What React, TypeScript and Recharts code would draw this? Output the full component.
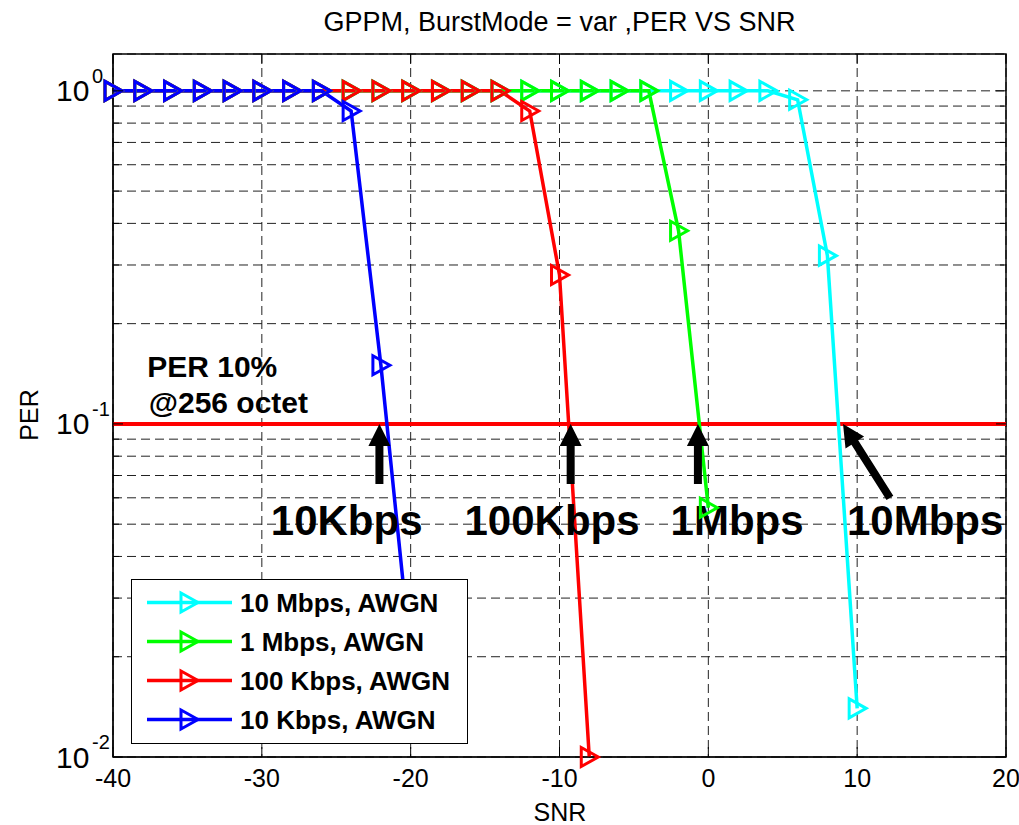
import React from 'react';
import {
  LineChart,
  Line,
  XAxis,
  YAxis,
  CartesianGrid,
  ReferenceLine,
  ReferenceDot,
  ReferenceArea,
  Legend,
} from 'recharts';

const FONT = "'Liberation Sans', Arial, Helvetica, sans-serif";

// ---- Data (SNR in dB, PER) ----
const snr10Mbps = [-40, -38, -36, -34, -32, -30, -28, -26, -24, -22, -20, -18, -16, -14, -12, -10, -8, -6, -4, -2, 0, 2, 4, 6, 8, 10];
const per10Mbps = [1, 1, 1, 1, 1, 1, 1, 1, 1, 1, 1, 1, 1, 1, 1, 1, 1, 1, 1, 1, 1, 1, 1, 0.94, 0.32, 0.014];

const snr1Mbps = [-40, -38, -36, -34, -32, -30, -28, -26, -24, -22, -20, -18, -16, -14, -12, -10, -8, -6, -4, -2, 0];
const per1Mbps = [1, 1, 1, 1, 1, 1, 1, 1, 1, 1, 1, 1, 1, 1, 1, 1, 1, 1, 1, 0.38, 0.056];

const snr100Kbps = [-40, -38, -36, -34, -32, -30, -28, -26, -24, -22, -20, -18, -16, -14, -12, -10, -8];
const per100Kbps = [1, 1, 1, 1, 1, 1, 1, 1, 1, 1, 1, 1, 1, 1, 0.87, 0.28, 0.01];

const snr10Kbps = [-40, -38, -36, -34, -32, -30, -28, -26, -24, -22, -20];
const per10Kbps = [1, 1, 1, 1, 1, 1, 1, 1, 0.87, 0.15, 0.02];

const seriesNames = ['10 Mbps, AWGN', '1 Mbps, AWGN', '100 Kbps, AWGN', '10 Kbps, AWGN'];
const seriesColors = ['#00ffff', '#00ff00', '#ff0000', '#0000ff'];

const xTicks = [-40, -30, -20, -10, 0, 10, 20];
const yTicks = [0.01, 0.02, 0.03, 0.04, 0.05, 0.06, 0.07, 0.08, 0.09, 0.1, 0.2, 0.3, 0.4, 0.5, 0.6, 0.7, 0.8, 0.9, 1];
const xDomain = [-40, 20];
const yDomain = [0.01, 1.29];

const perThreshold = 0.1;

// annotations
const arrowLabels = ['10Kbps', '100Kbps', '1Mbps', '10Mbps'];
const arrowTipSnr = [-22.1, -9.25, -0.7, 9.05];
const arrowTipPer = [0.1, 0.1, 0.1, 0.1];
const arrowTailSnr = [-22.1, -9.25, -0.7, 12.2];
const arrowTailPer = [0.066, 0.066, 0.066, 0.06];
const arrowLabelSnr = [-24.3, -10.5, 1.93, 14.57];
const arrowLabelPer = [0.0464, 0.0464, 0.0464, 0.0464];

const noteLines = ['PER 10%', '@256 octet'];
const noteSnr = [-37.7, -37.6];
const notePer = [0.138, 0.108];

const title = 'GPPM, BurstMode = var ,PER VS SNR';
const xLabel = 'SNR';
const yLabel = 'PER';

// ---- layout constants ----
const W = 1019;
const H = 825;
const M_TOP = 54;
const M_RIGHT = 13;
const Y_AXIS_W = 113;
const X_AXIS_H = 68;
const PLOT_W = W - Y_AXIS_W - M_RIGHT;
const PLOT_H = H - M_TOP - X_AXIS_H;

const build = (xs: number[], ys: number[]) => xs.map((x, i) => ({ snr: x, per: ys[i] }));
const seriesData = [
  build(snr10Mbps, per10Mbps),
  build(snr1Mbps, per1Mbps),
  build(snr100Kbps, per100Kbps),
  build(snr10Kbps, per10Kbps),
];

const Tri = ({ cx, cy, color }: { cx: number; cy: number; color: string }) => (
  <polygon
    points={`${cx - 8},${cy - 9.5} ${cx - 8},${cy + 9.5} ${cx + 9},${cy}`}
    fill="none"
    stroke={color}
    strokeWidth={3}
  />
);

const YTick = (props: any) => {
  const { x, y, payload } = props;
  const v = payload.value;
  const lg = Math.log10(v);
  const exp = Math.round(lg);
  const major = Math.abs(lg - exp) < 1e-6;
  const len = major ? 10 : 6;
  return (
    <g>
      <line x1={x} x2={x + len} y1={y} y2={y} stroke="#000" strokeWidth={1} />
      <line x1={x + PLOT_W} x2={x + PLOT_W - len} y1={y} y2={y} stroke="#000" strokeWidth={1} />
      {major && (
        <g fontFamily={FONT} fill="#000">
          <text x={x - 57} y={y + 10.5} fontSize={30}>10</text>
          <text x={x - 21} y={y - 8} fontSize={20}>{String(exp)}</text>
        </g>
      )}
    </g>
  );
};

const XTick = (props: any) => {
  const { x, y, payload } = props;
  return (
    <g>
      <line x1={x} x2={x} y1={y} y2={y - 10} stroke="#000" strokeWidth={1} />
      <line x1={x} x2={x} y1={y - PLOT_H} y2={y - PLOT_H + 10} stroke="#000" strokeWidth={1} />
      <text x={x} y={y + 30} fontSize={25} textAnchor="middle" fontFamily={FONT} fill="#000">
        {String(payload.value)}
      </text>
    </g>
  );
};

const arrowShape = (p: any) => {
  const { x1, y1, x2, y2 } = p;
  const dx = x2 - x1;
  const dy = y2 - y1;
  const L = Math.sqrt(dx * dx + dy * dy) || 1;
  const ux = dx / L;
  const uy = dy / L;
  const nx = -uy;
  const ny = ux;
  const head = 22;
  const hw = 11;
  const sw = 4;
  const bx = x2 - ux * head;
  const by = y2 - uy * head;
  const pts = [
    [x1 + nx * sw, y1 + ny * sw],
    [bx + nx * sw, by + ny * sw],
    [bx + nx * hw, by + ny * hw],
    [x2, y2],
    [bx - nx * hw, by - ny * hw],
    [bx - nx * sw, by - ny * sw],
    [x1 - nx * sw, y1 - ny * sw],
  ]
    .map((q) => `${q[0]},${q[1]}`)
    .join(' ');
  return <polygon points={pts} fill="#000" stroke="none" />;
};

const LegendBox = () => {
  const rowTop = 22.5;
  const rowStep = 39;
  return (
    <svg width={337} height={165} style={{ display: 'block' }}>
      {seriesNames.map((name, i) => {
        const cy = rowTop + i * rowStep;
        return (
          <g key={name}>
            <line x1={15} x2={100} y1={cy} y2={cy} stroke={seriesColors[i]} strokeWidth={3.5} />
            <Tri cx={57} cy={cy} color={seriesColors[i]} />
            <text x={108} y={cy + 9.5} fontSize={26} fontWeight="bold" fontFamily={FONT} fill="#000">
              {name}
            </text>
          </g>
        );
      })}
    </svg>
  );
};

export default function App() {
  return (
    <div
      style={{
        position: 'absolute',
        left: 0,
        top: 0,
        width: W,
        height: H,
        background: '#fff',
        fontFamily: FONT,
        overflow: 'hidden',
      }}
    >
      <LineChart width={W} height={H} margin={{ top: M_TOP, right: M_RIGHT, bottom: 0, left: 0 }}>
        <CartesianGrid stroke="#222" strokeDasharray="9 5" strokeWidth={1} />
        <XAxis
          type="number"
          dataKey="snr"
          domain={xDomain}
          ticks={xTicks}
          interval={0}
          tickSize={0}
          tickMargin={0}
          tickLine={false}
          axisLine={{ stroke: '#000' }}
          tick={XTick}
          height={X_AXIS_H}
        />
        <YAxis
          type="number"
          scale="log"
          domain={yDomain}
          ticks={yTicks}
          interval={0}
          tickSize={0}
          tickMargin={0}
          tickLine={false}
          axisLine={{ stroke: '#000' }}
          tick={YTick}
          width={Y_AXIS_W}
        />
        <ReferenceArea
          x1={xDomain[0]}
          x2={xDomain[1]}
          y1={yDomain[0]}
          y2={yDomain[1]}
          fill="none"
          stroke="#000"
          strokeWidth={1.5}
        />
        <ReferenceLine y={perThreshold} stroke="#ff0000" strokeWidth={4} />
        {seriesData.map((d, i) => (
          <Line
            key={seriesNames[i]}
            data={d}
            dataKey="per"
            name={seriesNames[i]}
            type="linear"
            stroke={seriesColors[i]}
            strokeWidth={3.5}
            isAnimationActive={false}
            dot={(p: any) => <Tri key={`${i}-${p.index}`} cx={p.cx} cy={p.cy} color={seriesColors[i]} />}
            activeDot={false}
          />
        ))}
        {arrowLabels.map((lab, i) => (
          <ReferenceLine
            key={`arrow-${lab}`}
            segment={[
              { x: arrowTailSnr[i], y: arrowTailPer[i] },
              { x: arrowTipSnr[i], y: arrowTipPer[i] },
            ]}
            shape={arrowShape}
          />
        ))}
        {arrowLabels.map((lab, i) => (
          <ReferenceDot
            key={`lab-${lab}`}
            x={arrowLabelSnr[i]}
            y={arrowLabelPer[i]}
            shape={(p: any) => (
              <text
                x={p.cx}
                y={p.cy}
                textAnchor="middle"
                fontSize={42}
                fontWeight="bold"
                fontFamily={FONT}
                fill="#000"
              >
                {lab}
              </text>
            )}
          />
        ))}
        {noteLines.map((t, i) => (
          <ReferenceDot
            key={`note-${i}`}
            x={noteSnr[i]}
            y={notePer[i]}
            shape={(p: any) => (
              <text x={p.cx} y={p.cy} fontSize={30} fontWeight="bold" fontFamily={FONT} fill="#000">
                {t}
              </text>
            )}
          />
        ))}
        <Legend
          layout="vertical"
          align="center"
          verticalAlign="middle"
          wrapperStyle={{
            position: 'absolute',
            left: 131,
            top: 579,
            width: 337,
            height: 165,
            boxSizing: 'border-box',
            border: '1.5px solid #000',
            background: '#fff',
            margin: 0,
            padding: 0,
          }}
          content={() => <LegendBox />}
        />
      </LineChart>
      <div
        style={{
          position: 'absolute',
          left: Y_AXIS_W + PLOT_W / 2,
          top: 22,
          transform: 'translate(-50%, -50%)',
          fontSize: 27,
          lineHeight: 1,
          whiteSpace: 'nowrap',
          color: '#000',
        }}
      >
        {title}
      </div>
      <div
        style={{
          position: 'absolute',
          left: 560,
          top: 812,
          transform: 'translate(-50%, -50%)',
          fontSize: 25,
          lineHeight: 1,
          whiteSpace: 'nowrap',
          color: '#000',
        }}
      >
        {xLabel}
      </div>
      <div
        style={{
          position: 'absolute',
          left: 29,
          top: 415,
          transform: 'translate(-50%, -50%) rotate(-90deg)',
          fontSize: 25,
          lineHeight: 1,
          whiteSpace: 'nowrap',
          color: '#000',
        }}
      >
        {yLabel}
      </div>
    </div>
  );
}
